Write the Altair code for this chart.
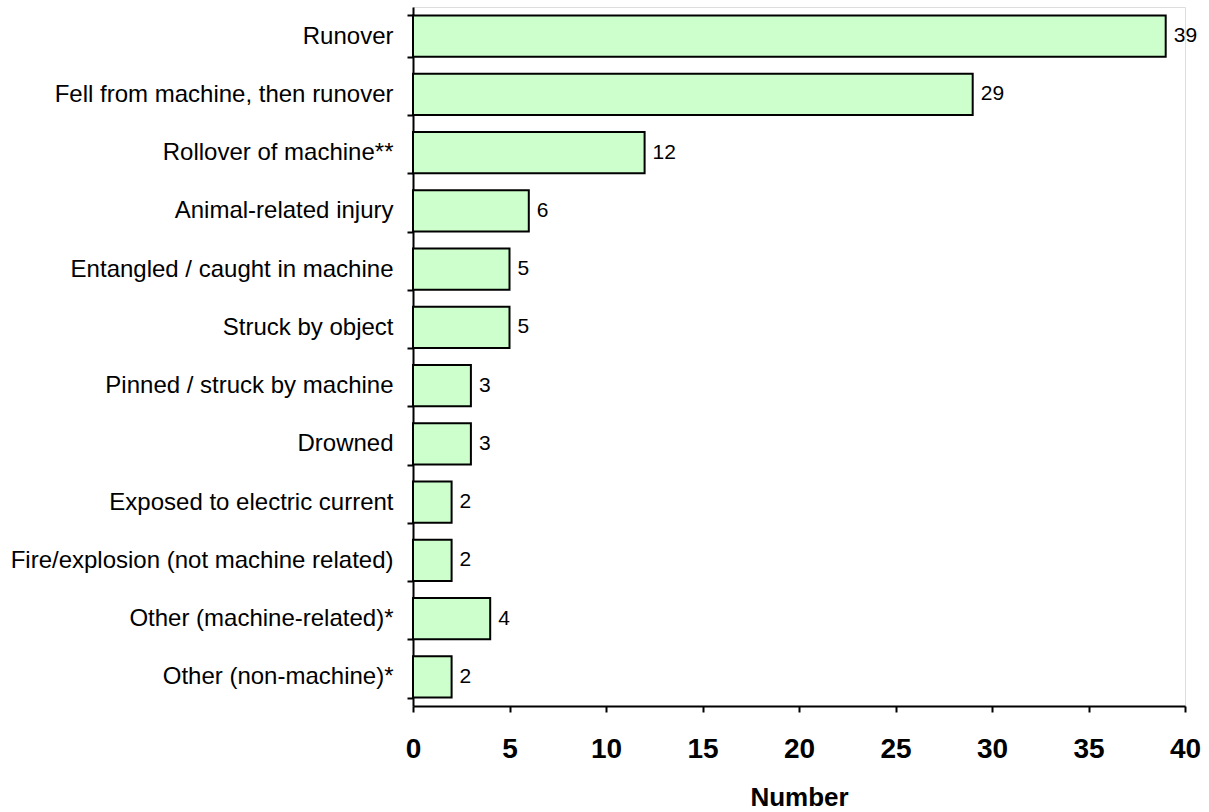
import altair as alt
import pandas as pd

causes = [
    "Runover",
    "Fell from machine, then runover",
    "Rollover of machine**",
    "Animal-related injury",
    "Entangled / caught in machine",
    "Struck by object",
    "Pinned / struck by machine",
    "Drowned",
    "Exposed to electric current",
    "Fire/explosion (not machine related)",
    "Other (machine-related)*",
    "Other (non-machine)*",
]
counts = [39, 29, 12, 6, 5, 5, 3, 3, 2, 2, 4, 2]

df = pd.DataFrame({"cause": causes, "count": counts})

y_enc = alt.Y(
    "cause:N",
    sort=causes,
    title=None,
    scale=alt.Scale(paddingInner=0.29, paddingOuter=0.145),
    axis=alt.Axis(
        tickBand="extent",
        tickSize=6,
        tickWidth=2,
        tickColor="black",
        domainColor="black",
        domainWidth=2,
        labelFont="Liberation Sans",
        labelFontSize=24,
        labelColor="black",
        labelPadding=14,
        labelLimit=600,
        grid=False,
    ),
)

x_enc = alt.X(
    "count:Q",
    title="Number",
    scale=alt.Scale(domain=[0, 40], nice=False),
    axis=alt.Axis(
        values=[0, 5, 10, 15, 20, 25, 30, 35, 40],
        tickSize=6,
        tickWidth=2,
        tickColor="black",
        domainColor="black",
        domainWidth=2,
        labelFlush=False,
        labelFont="Liberation Sans",
        labelFontSize=28,
        labelFontWeight="bold",
        labelColor="black",
        labelPadding=23,
        titleFont="Liberation Sans",
        titleFontSize=26,
        titleFontWeight="bold",
        titleColor="black",
        titlePadding=21,
        grid=False,
    ),
)

bars = alt.Chart(df).mark_bar(
    fill="#CCFFCC", stroke="black", strokeWidth=2
).encode(y=y_enc, x=x_enc)

labels = alt.Chart(df).mark_text(
    align="left", baseline="middle", dx=8, fontSize=21,
    font="Liberation Sans", color="black"
).encode(y=alt.Y("cause:N", sort=causes), x="count:Q", text="count:Q")

chart = (
    alt.layer(bars, labels)
    .properties(
        width=772,
        height=699,
        autosize=alt.AutoSizeParams(type="none"),
        padding={"left": 413, "top": 7, "right": 24, "bottom": 106},
    )
    .configure_view(stroke=None)
    .configure(background="white")
)

chart.save("out.html", embed_options={"renderer": "svg", "actions": False})
